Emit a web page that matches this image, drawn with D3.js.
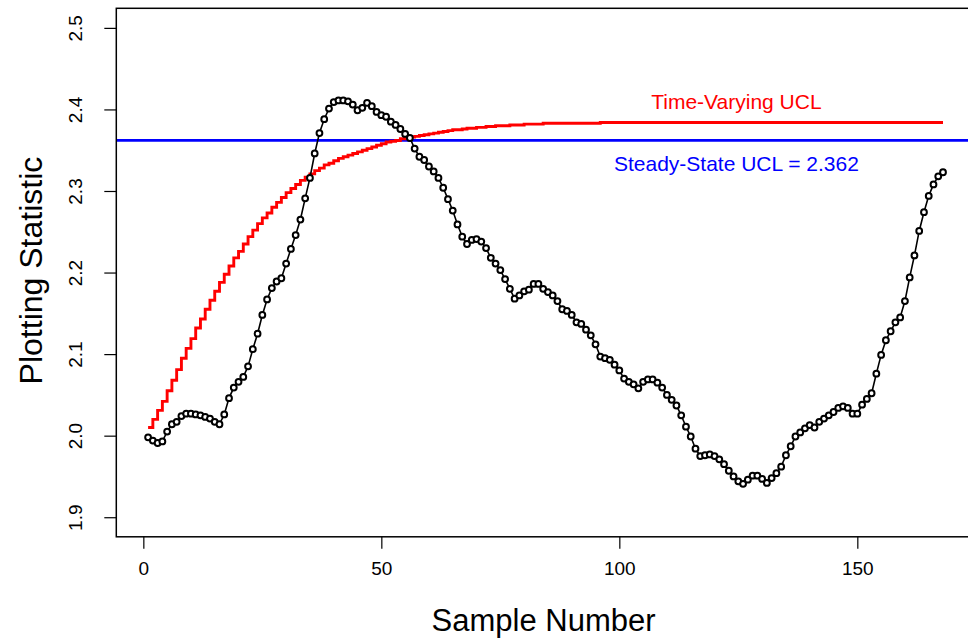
<!DOCTYPE html>
<html>
<head>
    <style>
        body { margin: 0; background: #fff; }
        svg text { font-family: "Liberation Sans", Arial, sans-serif; }
    </style>
    <script src="https://d3js.org/d3.v7.min.js"></script>
</head>
<body>
    <div id="chart"></div>

    <script>
        // Plotting statistic, samples 1..168
        const plottingStat = [
            1.998, 1.994, 1.991, 1.993, 2.005, 2.014, 2.017, 2.024, 2.027, 2.027,
            2.026, 2.025, 2.023, 2.021, 2.017, 2.014, 2.026, 2.046, 2.059, 2.066,
            2.072, 2.085, 2.106, 2.125, 2.148, 2.167, 2.181, 2.189, 2.193, 2.211,
            2.229, 2.246, 2.265, 2.291, 2.316, 2.346, 2.371, 2.388, 2.401, 2.409,
            2.411, 2.411, 2.410, 2.406, 2.399, 2.402, 2.408, 2.404, 2.397, 2.393,
            2.391, 2.385, 2.381, 2.376, 2.370, 2.365, 2.352, 2.342, 2.338, 2.330,
            2.324, 2.316, 2.304, 2.290, 2.276, 2.259, 2.244, 2.235, 2.240, 2.241,
            2.238, 2.230, 2.218, 2.211, 2.203, 2.192, 2.180, 2.168, 2.172, 2.177,
            2.179, 2.186, 2.186, 2.180, 2.176, 2.172, 2.165, 2.155, 2.153, 2.148,
            2.139, 2.137, 2.130, 2.123, 2.112, 2.097, 2.095, 2.093, 2.087, 2.080,
            2.070, 2.066, 2.063, 2.058, 2.066, 2.069, 2.069, 2.065, 2.059, 2.050,
            2.044, 2.037, 2.025, 2.011, 1.999, 1.984, 1.975, 1.976, 1.977, 1.975,
            1.971, 1.965, 1.957, 1.950, 1.944, 1.941, 1.946, 1.951, 1.951, 1.947,
            1.942, 1.948, 1.954, 1.962, 1.976, 1.987, 1.999, 2.004, 2.009, 2.013,
            2.010, 2.017, 2.021, 2.025, 2.029, 2.034, 2.036, 2.034, 2.027, 2.027,
            2.038, 2.045, 2.052, 2.076, 2.099, 2.117, 2.128, 2.139, 2.145, 2.165,
            2.194, 2.221, 2.251, 2.274, 2.294, 2.308, 2.318, 2.323
        ];

        // Time-varying upper control limit, samples 1..168
        const timeVaryingUCL = [
            2.010, 2.020, 2.031, 2.042, 2.055, 2.068, 2.081, 2.095, 2.107, 2.119,
            2.132, 2.143, 2.155, 2.166, 2.177, 2.188, 2.198, 2.208, 2.218, 2.226,
            2.235, 2.244, 2.252, 2.260, 2.267, 2.273, 2.280, 2.286, 2.292, 2.298,
            2.303, 2.308, 2.313, 2.317, 2.321, 2.325, 2.328, 2.332, 2.334, 2.337,
            2.340, 2.342, 2.344, 2.346, 2.348, 2.350, 2.352, 2.354, 2.356, 2.358,
            2.360, 2.361, 2.362, 2.364, 2.365, 2.366, 2.367, 2.368, 2.369, 2.370,
            2.371, 2.372, 2.373, 2.374, 2.375, 2.375, 2.376, 2.377, 2.377, 2.378,
            2.378, 2.379, 2.379, 2.380, 2.380, 2.380, 2.381, 2.381, 2.381, 2.382,
            2.382, 2.382, 2.382, 2.383, 2.383, 2.383, 2.383, 2.383, 2.383, 2.383,
            2.383, 2.383, 2.383, 2.383, 2.383, 2.384, 2.384, 2.384, 2.384, 2.384,
            2.384, 2.384, 2.384, 2.384, 2.384, 2.384, 2.384, 2.384, 2.384, 2.384,
            2.384, 2.384, 2.384, 2.384, 2.384, 2.384, 2.384, 2.384, 2.384, 2.384,
            2.384, 2.384, 2.384, 2.384, 2.384, 2.384, 2.384, 2.384, 2.384, 2.384,
            2.384, 2.384, 2.384, 2.384, 2.384, 2.384, 2.384, 2.384, 2.384, 2.384,
            2.384, 2.384, 2.384, 2.384, 2.384, 2.384, 2.384, 2.384, 2.384, 2.384,
            2.384, 2.384, 2.384, 2.384, 2.384, 2.384, 2.384, 2.384, 2.384, 2.384,
            2.384, 2.384, 2.384, 2.384, 2.384, 2.384, 2.384, 2.384
        ];

        const steadyStateUCL = 2.362;
        const xTicks = [0, 50, 100, 150];
        const yTicks = [1.9, 2.0, 2.1, 2.2, 2.3, 2.4, 2.5];
        const yTickLabels = ["1.9", "2.0", "2.1", "2.2", "2.3", "2.4", "2.5"];

        const samples = plottingStat.map((v, i) => ({ n: i + 1, stat: v, ucl: timeVaryingUCL[i] }));

        const width = 968, height = 642;
        // plot region (R style, 4% padding on the data range)
        const plotLeft = 116.3, plotRight = 974.8, plotTop = 8.3, plotBottom = 536.8;

        const svg = d3.select("#chart").append("svg")
            .attr("width", width)
            .attr("height", height)
            .style("display", "block");

        svg.append("rect").attr("width", width).attr("height", height).attr("fill", "#fff");

        const xScale = d3.scaleLinear().domain([-5.68, 174.68]).range([plotLeft, plotRight]);
        const yScale = d3.scaleLinear().domain([1.876, 2.524]).range([plotBottom, plotTop]);

        // clip for everything drawn inside the box
        svg.append("clipPath").attr("id", "plotClip")
            .append("rect")
            .attr("x", plotLeft).attr("y", plotTop)
            .attr("width", plotRight - plotLeft).attr("height", plotBottom - plotTop);

        const plot = svg.append("g").attr("clip-path", "url(#plotClip)");

        // steady-state UCL across the whole plot
        plot.append("line")
            .attr("x1", plotLeft).attr("x2", plotRight)
            .attr("y1", yScale(steadyStateUCL)).attr("y2", yScale(steadyStateUCL))
            .attr("stroke", "#0000ff")
            .attr("stroke-width", 2.8);

        // time-varying UCL as a step line
        const uclLine = d3.line()
            .x(d => xScale(d.n))
            .y(d => yScale(d.ucl))
            .curve(d3.curveStepAfter);

        plot.append("path")
            .datum(samples)
            .attr("d", uclLine)
            .attr("fill", "none")
            .attr("stroke", "#ff0000")
            .attr("stroke-width", 2.9);

        // plotting statistic: line with open circles
        const statLine = d3.line()
            .x(d => xScale(d.n))
            .y(d => yScale(d.stat));

        plot.append("path")
            .datum(samples)
            .attr("d", statLine)
            .attr("fill", "none")
            .attr("stroke", "#000")
            .attr("stroke-width", 1.6);

        plot.selectAll("circle.pt")
            .data(samples)
            .enter()
            .append("circle")
            .attr("class", "pt")
            .attr("cx", d => xScale(d.n))
            .attr("cy", d => yScale(d.stat))
            .attr("r", 2.9)
            .attr("fill", "#fff")
            .attr("stroke", "#000")
            .attr("stroke-width", 2);

        // annotations
        svg.append("text")
            .attr("x", xScale(124.6)).attr("y", yScale(2.41))
            .attr("text-anchor", "middle")
            .attr("dominant-baseline", "central")
            .attr("fill", "#ff0000")
            .style("font-size", "21px")
            .text("Time-Varying UCL");

        svg.append("text")
            .attr("x", xScale(124.6)).attr("y", yScale(2.334))
            .attr("text-anchor", "middle")
            .attr("dominant-baseline", "central")
            .attr("fill", "#0000ff")
            .style("font-size", "21px")
            .text("Steady-State UCL = " + steadyStateUCL);

        // box
        svg.append("rect")
            .attr("x", plotLeft).attr("y", plotTop)
            .attr("width", plotRight - plotLeft).attr("height", plotBottom - plotTop)
            .attr("fill", "none")
            .attr("stroke", "#000")
            .attr("stroke-width", 1.5);

        // x axis
        const xAxis = d3.axisBottom(xScale)
            .tickValues(xTicks)
            .tickSize(12)
            .tickPadding(13)
            .tickFormat(d3.format("d"));

        const gx = svg.append("g")
            .attr("transform", `translate(0,${plotBottom})`)
            .call(xAxis);
        gx.select(".domain").remove();
        gx.selectAll("line").attr("stroke-width", 1.2);
        gx.selectAll("text")
            .attr("fill", "#000")
            .style("font-size", "19px")
            .style("font-family", "Liberation Sans, Arial, sans-serif");

        // y axis, labels rotated like R's default
        const yAxis = d3.axisLeft(yScale)
            .tickValues(yTicks)
            .tickSize(12)
            .tickFormat((d, i) => yTickLabels[i]);

        const gy = svg.append("g")
            .attr("transform", `translate(${plotLeft},0)`)
            .call(yAxis);
        gy.select(".domain").remove();
        gy.selectAll("line").attr("stroke-width", 1.2);
        gy.selectAll("text")
            .attr("x", null).attr("dy", null)
            .attr("text-anchor", "middle")
            .attr("fill", "#000")
            .attr("transform", "translate(-41,0) rotate(-90)")
            .attr("dominant-baseline", "central")
            .style("font-size", "19px")
            .style("font-family", "Liberation Sans, Arial, sans-serif");

        // axis titles
        svg.append("text")
            .attr("x", (plotLeft + plotRight) / 2 - 2)
            .attr("y", 620)
            .attr("text-anchor", "middle")
            .attr("dominant-baseline", "central")
            .style("font-size", "31px")
            .text("Sample Number");

        svg.append("text")
            .attr("transform", `translate(31,${(plotTop + plotBottom) / 2 - 2}) rotate(-90)`)
            .attr("text-anchor", "middle")
            .attr("dominant-baseline", "central")
            .style("font-size", "32px")
            .text("Plotting Statistic");
    </script>
</body>
</html>
